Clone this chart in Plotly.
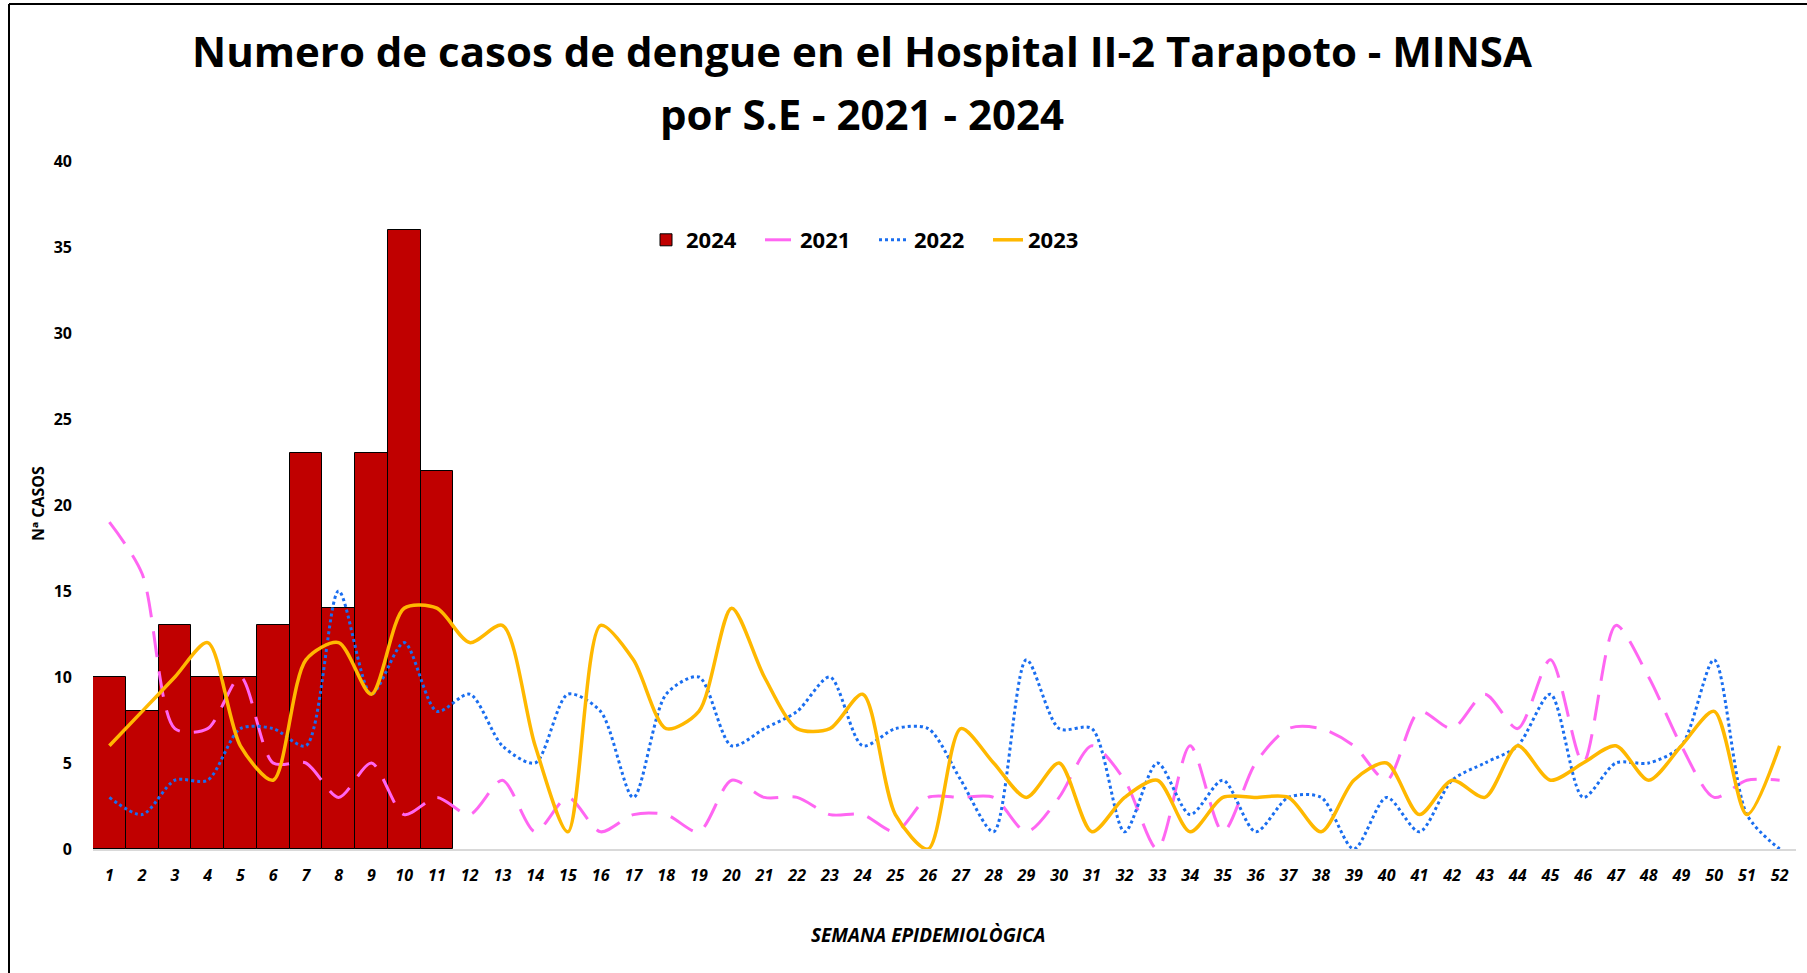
import plotly.graph_objects as go

weeks = list(range(1, 53))
weeks_2024 = list(range(1, 12))
cases_2024 = [10, 8, 13, 10, 10, 13, 23, 14, 23, 36, 22]
cases_2021 = [19, 16, 7, 7, 10, 5, 5, 3, 5, 2, 3, 2, 4, 1, 3, 1, 2, 2, 1, 4,
              3, 3, 2, 2, 1, 3, 3, 3, 1, 3, 6, 4, 0, 6, 1, 5, 7, 7, 6, 4,
              8, 7, 9, 7, 11, 5, 13, 10, 6, 3, 4, 4]
cases_2022 = [3, 2, 4, 4, 7, 7, 6, 15, 9, 12, 8, 9, 6, 5, 9, 8, 3, 9, 10, 6,
              7, 8, 10, 6, 7, 7, 4, 1, 11, 7, 7, 1, 5, 2, 4, 1, 3, 3, 0, 3,
              1, 4, 5, 6, 9, 3, 5, 5, 6, 11, 2, 0]
cases_2023 = [6, 8, 10, 12, 6, 4, 11, 12, 9, 14, 14, 12, 13, 6, 1, 13, 11, 7, 8, 14,
              10, 7, 7, 9, 2, 0, 7, 5, 3, 5, 1, 3, 4, 1, 3, 3, 3, 1, 4, 5,
              2, 4, 3, 6, 4, 5, 6, 4, 6, 8, 2, 6]

title_line1 = "Numero de casos de dengue en el Hospital II-2 Tarapoto - MINSA"
title_line2 = "por S.E - 2021 - 2024"
x_title = "SEMANA EPIDEMIOLÒGICA"
y_title = "Nª CASOS"

W, H = 1807, 973
L, R, T, B = 93, 11, 161, 124
PW, PH = W - L - R, H - T - B

def px(x):
    return (x - L) / PW

def py(y):
    return (H - B - y) / PH

FONT = "Open Sans"

fig = go.Figure()
fig.add_trace(go.Bar(x=weeks_2024, y=cases_2024, name="2024",
                     marker=dict(color="#C00000", line=dict(color="#000000", width=1))))
fig.add_trace(go.Scatter(x=weeks, y=cases_2021, name="2021", mode="lines",
                         line=dict(color="#FF66F2", width=3, dash="26px,14px",
                                   shape="spline", smoothing=0.8)))
fig.add_trace(go.Scatter(x=weeks, y=cases_2022, name="2022", mode="lines",
                         line=dict(color="#1A6EF0", width=3, dash="dot",
                                   shape="spline", smoothing=0.8)))
fig.add_trace(go.Scatter(x=weeks, y=cases_2023, name="2023", mode="lines",
                         line=dict(color="#FFB800", width=3.5,
                                   shape="spline", smoothing=0.8)))

fig.update_layout(
    width=W, height=H,
    margin=dict(l=L, r=R, t=T, b=B),
    paper_bgcolor="white", plot_bgcolor="white",
    bargap=0,
    font=dict(family=FONT, color="#000000"),
    showlegend=True,
    legend=dict(orientation="h", x=px(646), y=py(240), xanchor="left", yanchor="middle",
                font=dict(family=FONT, size=22, color="#000000", weight="bold"),
                entrywidth=69, entrywidthmode="pixels",
                bgcolor="rgba(0,0,0,0)", tracegroupgap=0),
    xaxis=dict(range=[0.5, 52.5], tickmode="array", tickvals=weeks,
               ticktext=[str(w) for w in weeks], showgrid=False, zeroline=False,
               showline=True, linecolor="#D9D9D9", linewidth=2, ticks="",
               ticklabelstandoff=11,
               tickfont=dict(family=FONT, size=16, color="#000000", weight="bold", style="italic")),
    yaxis=dict(range=[0, 40], tickmode="array", tickvals=list(range(0, 41, 5)),
               showgrid=False, zeroline=False, showline=False, ticks="",
               ticklabelstandoff=20,
               tickfont=dict(family=FONT, size=16, color="#000000", weight="bold")),
    annotations=[
        dict(text="<b>" + title_line1 + "</b>", x=px(862), y=py(50), xref="paper", yref="paper",
             xanchor="center", yanchor="middle", showarrow=False,
             font=dict(family=FONT, size=42, color="#000000")),
        dict(text="<b>" + title_line2 + "</b>", x=px(862), y=py(113), xref="paper", yref="paper",
             xanchor="center", yanchor="middle", showarrow=False,
             font=dict(family=FONT, size=42, color="#000000")),
        dict(text="<b><i>" + x_title + "</i></b>", x=px(928), y=py(935), xref="paper", yref="paper",
             xanchor="center", yanchor="middle", showarrow=False,
             font=dict(family=FONT, size=19, color="#000000")),
        dict(text=y_title, x=px(38), y=py(504), xref="paper", yref="paper",
             xanchor="center", yanchor="middle", showarrow=False, textangle=-90,
             font=dict(family=FONT, size=16, color="#000000", weight="bold")),
    ],
    shapes=[
        dict(type="line", xref="paper", yref="paper", x0=px(9), x1=px(W + 5), y0=py(4), y1=py(4),
             line=dict(color="#000000", width=2)),
        dict(type="line", xref="paper", yref="paper", x0=px(9), x1=px(9), y0=py(4), y1=py(H + 5),
             line=dict(color="#000000", width=2)),
    ],
)

fig.write_html("out.html", config={"displayModeBar": False},
               post_script="document.body.style.margin='0';document.body.style.overflow='hidden';")
